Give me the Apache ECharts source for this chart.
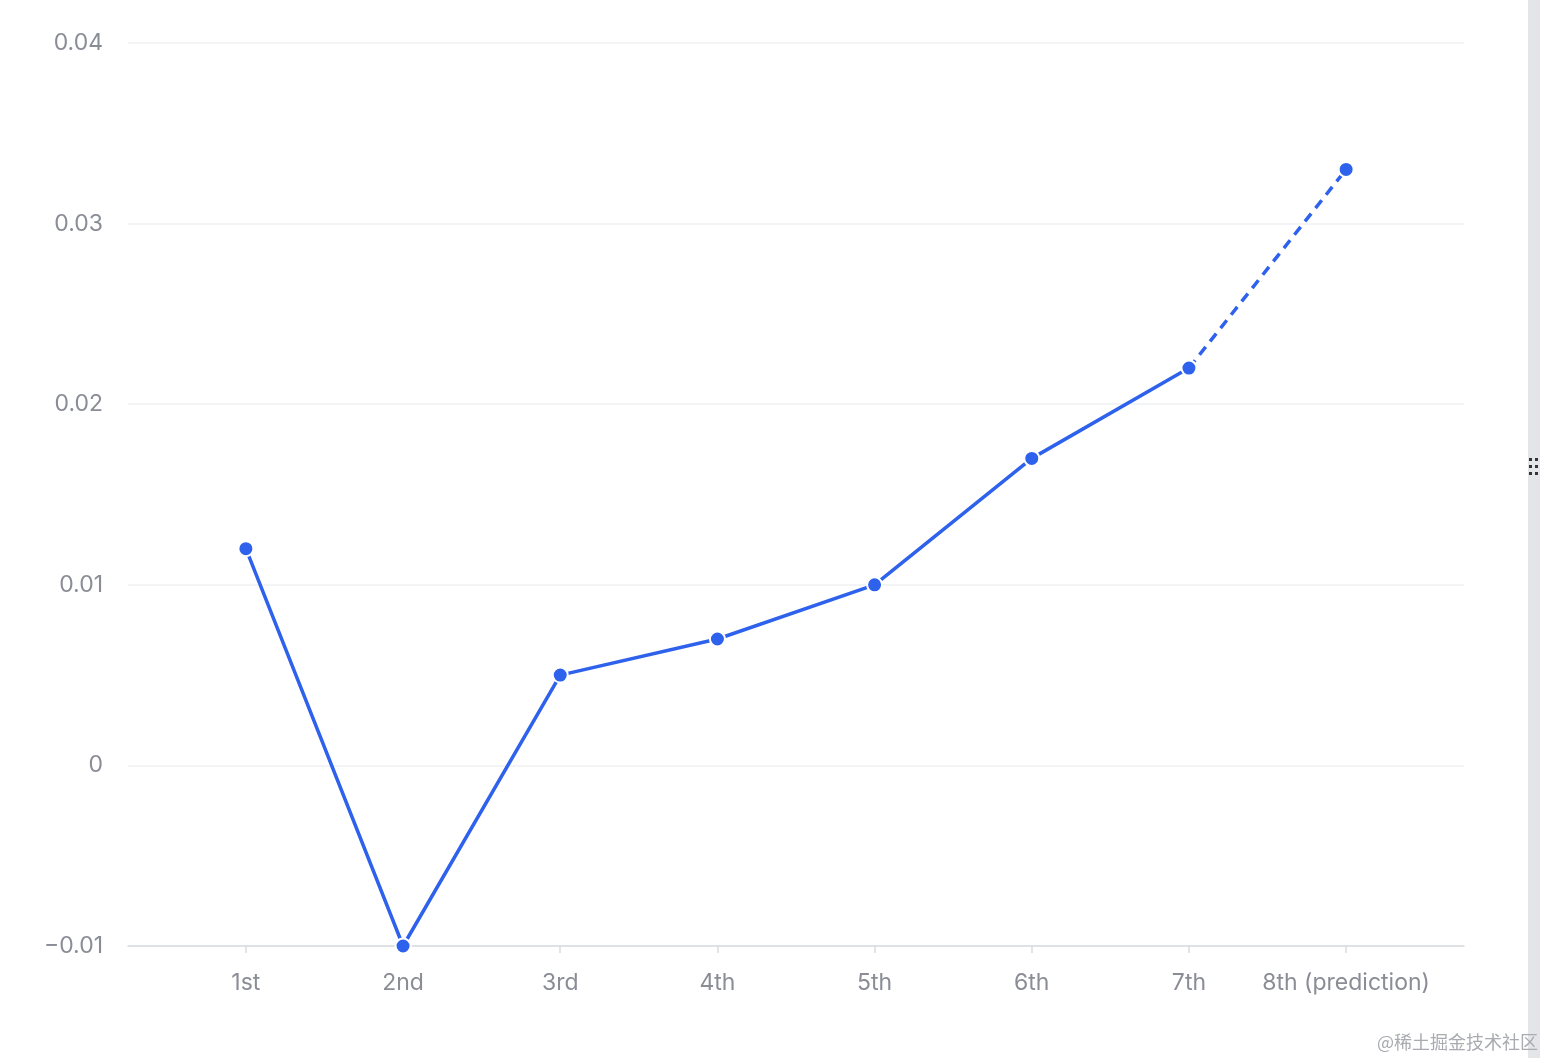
<!DOCTYPE html>
<html>
<head>
<meta charset="utf-8">
<style>
  html, body { margin: 0; padding: 0; background: #fff; }
  #main { width: 1544px; height: 1058px; }
</style>
<script src="https://cdn.jsdelivr.net/npm/echarts@6/dist/echarts.min.js"></script>
</head>
<body>
<div id="main"></div>
<script>
// round labels
const categories = ['1st', '2nd', '3rd', '4th', '5th', '6th', '7th', '8th (prediction)']
// measured values, last one is the forecast
const actualValues = [0.012, -0.01, 0.005, 0.007, 0.01, 0.017, 0.022]
const predictedValue = 0.033
const yTicks = [-0.01, 0, 0.01, 0.02, 0.03, 0.04]

const lineColor = '#2f62ec'
const labelColor = '#8a8d96'

let solidData = actualValues.map((v, i) => [i, v])
// dashed piece joins the last actual point to the prediction
let lastIdx = actualValues.length - 1
let dashData = [[lastIdx, actualValues[lastIdx]], [lastIdx + 1, predictedValue]]
let tickIdx = categories.map((c, i) => i)

let chart = echarts.init(document.getElementById('main'))
let option = {
  animation: false,
  grid: { left: 128, right: 80, top: 43, bottom: 112 },
  xAxis: {
    type: 'value',
    min: -0.75,
    max: categories.length - 0.25,
    splitLine: { show: false },
    axisLine: { show: true, onZero: false, lineStyle: { color: '#d9dbe0', width: 1.5 } },
    axisTick: { show: true, customValues: tickIdx, length: 7, lineStyle: { color: '#d9dbe0', width: 1.5 } },
    axisLabel: {
      customValues: tickIdx,
      margin: 26,
      color: labelColor,
      fontSize: 23,
      fontFamily: 'Inter, "Noto Sans", sans-serif',
      formatter: (v) => categories[Math.round(v)]
    }
  },
  yAxis: {
    type: 'value',
    min: yTicks[0],
    max: yTicks[yTicks.length - 1],
    interval: 0.01,
    axisLine: { show: false },
    axisTick: { show: false },
    splitLine: { lineStyle: { color: '#eef0f3', width: 1.5 } },
    axisLabel: {
      margin: 25,
      color: labelColor,
      fontSize: 23,
      fontFamily: 'Inter, "Noto Sans", sans-serif',
      formatter: function (v) {
        let n = +v.toFixed(3)
        return n < 0 ? '\u2212' + Math.abs(n) : String(n)
      }
    }
  },
  series: [
    {
      type: 'line',
      data: dashData,
      symbol: 'circle',
      symbolSize: 15,
      lineStyle: { color: lineColor, width: 3.5, type: [10, 7] },
      itemStyle: { color: lineColor, borderColor: '#fff', borderWidth: 2 },
      z: 2
    },
    {
      type: 'line',
      data: solidData,
      symbol: 'circle',
      symbolSize: 15,
      lineStyle: { color: lineColor, width: 3.5 },
      itemStyle: { color: lineColor, borderColor: '#fff', borderWidth: 2 },
      z: 3
    }
  ],
  graphic: [
    { type: 'rect', left: 1528, top: 0, shape: { width: 12, height: 1058 }, style: { fill: '#e4e5e9' } },
    {
      type: 'group', left: 1529, top: 458,
      children: [
        { type: 'rect', x: 0, y: 0, shape: { width: 3, height: 3 }, style: { fill: '#333' } },
        { type: 'rect', x: 6, y: 0, shape: { width: 3, height: 3 }, style: { fill: '#333' } },
        { type: 'rect', x: 0, y: 7, shape: { width: 3, height: 3 }, style: { fill: '#333' } },
        { type: 'rect', x: 6, y: 7, shape: { width: 3, height: 3 }, style: { fill: '#333' } },
        { type: 'rect', x: 0, y: 14, shape: { width: 3, height: 3 }, style: { fill: '#333' } },
        { type: 'rect', x: 6, y: 14, shape: { width: 3, height: 3 }, style: { fill: '#333' } }
      ]
    },
    {
      type: 'text', right: 6, bottom: 7,
      style: { text: '@稀土掘金技术社区', fill: '#a9abb0', fontSize: 18, fontFamily: '"Noto Sans CJK SC", sans-serif' }
    }
  ]
}
chart.setOption(option)
</script>
</body>
</html>
